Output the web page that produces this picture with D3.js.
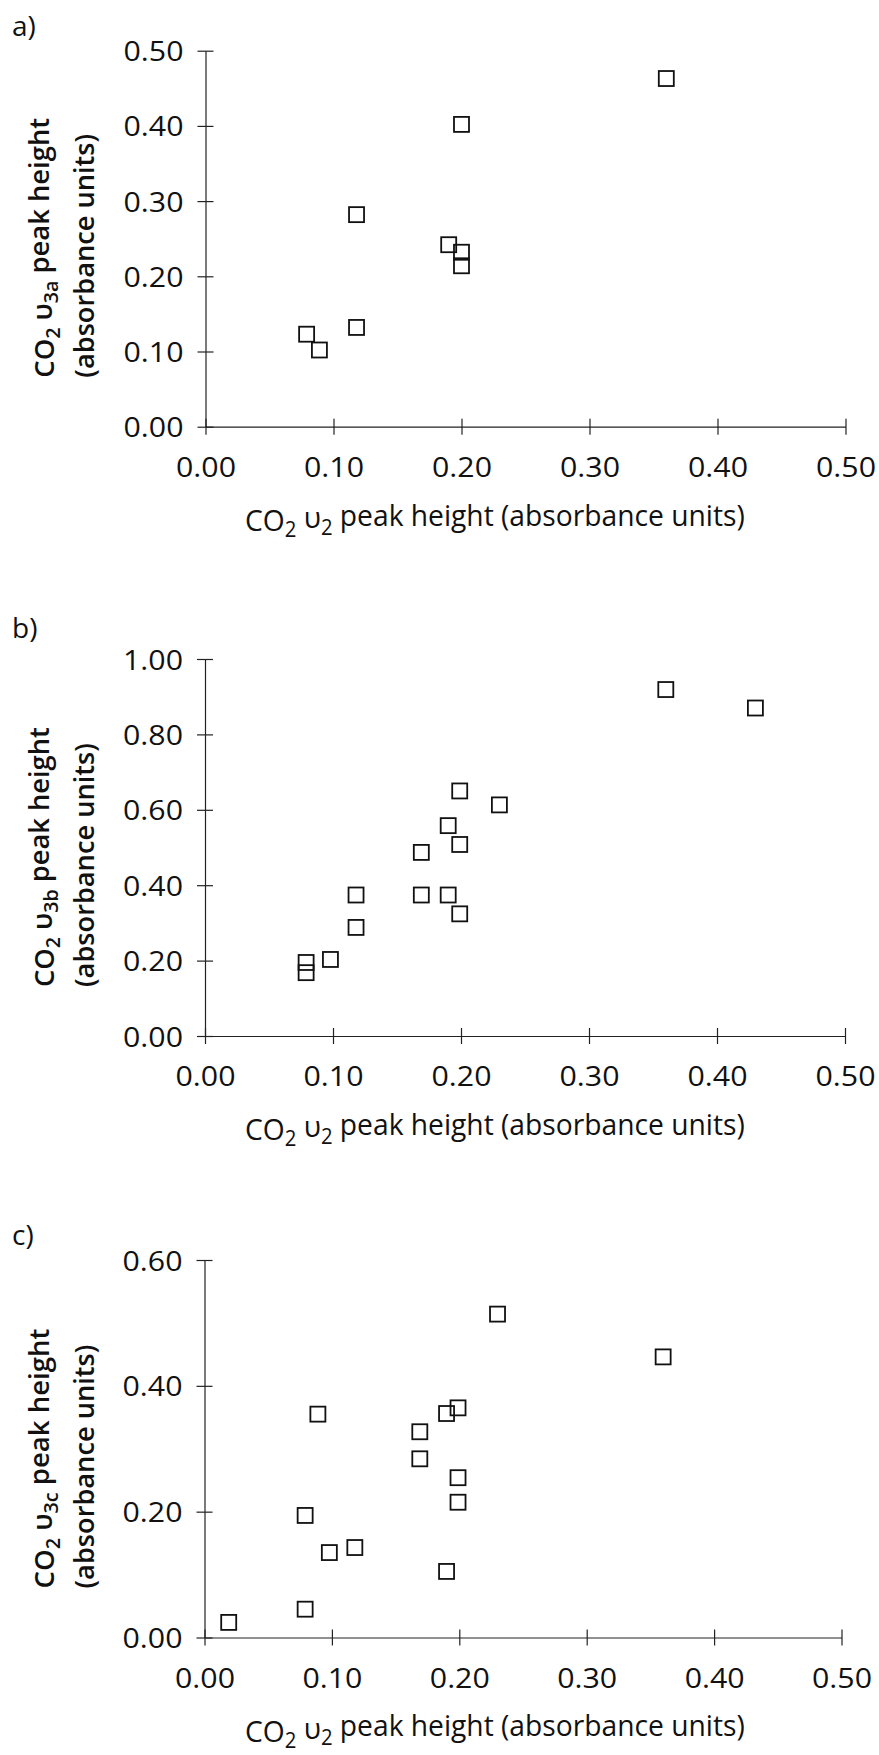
<!DOCTYPE html>
<html>
<head>
<meta charset="utf-8">
<script src="https://cdn.jsdelivr.net/npm/d3@7"></script>
<style>
  html, body { margin: 0; padding: 0; background: #fff; }
  svg { display: block; }
  text { font-family: "Open Sans", "DejaVu Sans", sans-serif; fill: #111; }
</style>
</head>
<body>
<svg id="chart" width="879" height="1755"></svg>
<script>
// ---------------- data ----------------
const xTicks = [0, 0.1, 0.2, 0.3, 0.4, 0.5];
const xMax = 0.5;

const panelLabels = ["a)", "b)", "c)"];
const ySubscripts = ["3a", "3b", "3c"];

// panel a : CO2 v3a vs CO2 v2
const aX = [0.36, 0.20, 0.118, 0.19, 0.20, 0.20, 0.118, 0.079, 0.089];
const aY = [0.463, 0.402, 0.282, 0.242, 0.232, 0.214, 0.132, 0.123, 0.102];
const aTicks = [0, 0.1, 0.2, 0.3, 0.4, 0.5];
const aMax = 0.5;

// panel b : CO2 v3b vs CO2 v2
const bX = [0.36, 0.43, 0.199, 0.23, 0.19, 0.199, 0.169, 0.118, 0.169, 0.19, 0.199, 0.118, 0.098, 0.079, 0.079];
const bY = [0.919, 0.870, 0.650, 0.613, 0.558, 0.508, 0.487, 0.374, 0.374, 0.374, 0.324, 0.288, 0.203, 0.195, 0.168];
const bTicks = [0, 0.2, 0.4, 0.6, 0.8, 1.0];
const bMax = 1.0;

// panel c : CO2 v3c vs CO2 v2
const cX = [0.23, 0.36, 0.199, 0.19, 0.089, 0.169, 0.169, 0.199, 0.199, 0.079, 0.118, 0.098, 0.19, 0.079, 0.019];
const cY = [0.514, 0.446, 0.365, 0.356, 0.355, 0.327, 0.284, 0.254, 0.215, 0.194, 0.143, 0.135, 0.105, 0.045, 0.024];
const cTicks = [0, 0.2, 0.4, 0.6];
const cMax = 0.6;

// ---------------- layout ----------------
const panels = [
  { label: panelLabels[0], sub: ySubscripts[0], xs: aX, ys: aY, ticks: aTicks, yMax: aMax,
    xr: [205.5, 845.5], yr: [426.7, 50.7], labelY: 36 },
  { label: panelLabels[1], sub: ySubscripts[1], xs: bX, ys: bY, ticks: bTicks, yMax: bMax,
    xr: [205, 845], yr: [1036, 659], labelY: 638 },
  { label: panelLabels[2], sub: ySubscripts[2], xs: cX, ys: cY, ticks: cTicks, yMax: cMax,
    xr: [204.5, 841.5], yr: [1637.5, 1260], labelY: 1245 }
];

const svg = d3.select("#chart");
const fmt = d3.format(".2f");
const TICK_FS = 28, TITLE_FS = 30, YT_FS = 27, LAB_FS = 28;

// measure helper
function measure(build, size, weight) {
  const t = svg.append("text").attr("font-size", size).attr("font-weight", weight || 400);
  build(t);
  const w = t.node().getComputedTextLength();
  t.remove();
  return w;
}
const tickScale = 60 / measure(t => t.text("0.50"), TICK_FS);

function titleX(t, sub) {
  t.append("tspan").text("CO");
  t.append("tspan").attr("font-size", "72%").attr("dy", "0.3em").text("2");
  t.append("tspan").attr("dy", "-0.3em").text(" υ");
  t.append("tspan").attr("font-size", "72%").attr("dy", "0.3em").text(sub);
  t.append("tspan").attr("dy", "-0.3em").text(sub === "2" ? " peak height (absorbance units)" : " peak height");
}

panels.forEach(p => {
  const g = svg.append("g");
  const x = d3.scaleLinear().domain([0, xMax]).range(p.xr);
  const y = d3.scaleLinear().domain([0, p.yMax]).range(p.yr);
  const y0 = p.yr[0];

  // x axis
  const gx = g.append("g").attr("transform", `translate(0,${y0})`)
    .call(d3.axisBottom(x).tickValues(xTicks).tickFormat(fmt).tickSize(8).tickSizeOuter(0));
  gx.selectAll(".tick line").attr("y1", -8).attr("y2", 8);
  gx.selectAll(".tick text")
    .attr("y", null).attr("dy", null).attr("x", null)
    .attr("font-size", TICK_FS).attr("font-family", null)
    .attr("text-anchor", "middle")
    .attr("transform", `translate(0,50) scale(${tickScale},1)`);

  // y axis
  const gy = g.append("g").attr("transform", `translate(${p.xr[0]},0)`)
    .call(d3.axisLeft(y).tickValues(p.ticks).tickFormat(fmt).tickSize(8).tickSizeOuter(0));
  gy.selectAll(".tick line").attr("x1", 8).attr("x2", -8);
  gy.selectAll(".tick text")
    .attr("x", null).attr("dy", null).attr("y", null)
    .attr("font-size", TICK_FS).attr("font-family", null)
    .attr("text-anchor", "end")
    .attr("transform", `translate(-22,10) scale(${tickScale},1)`);

  g.selectAll(".domain, .tick line").attr("stroke", "#222").attr("stroke-width", 1.2);

  // panel label
  g.append("text").attr("x", 12).attr("y", p.labelY).attr("font-size", LAB_FS).text(p.label);

  // x title
  const wX = measure(t => titleX(t, "2"), TITLE_FS);
  const tx = g.append("text").attr("font-size", TITLE_FS)
    .attr("transform", `translate(245,${y0 + 104}) scale(${500 / wX},1)`);
  titleX(tx, "2");

  // y title, two lines, rotated
  const w1 = measure(t => titleX(t, p.sub), YT_FS, 600);
  const ty1 = g.append("text").attr("font-size", YT_FS).attr("font-weight", 600)
    .attr("transform", `translate(54,${y0 - 49}) rotate(-90) scale(${260 / w1},1)`);
  titleX(ty1, p.sub);
  const w2 = measure(t => t.text("(absorbance units)"), YT_FS, 600);
  g.append("text").attr("font-size", YT_FS).attr("font-weight", 600)
    .attr("transform", `translate(94,${y0 - 49}) rotate(-90) scale(${244 / w2},1)`)
    .text("(absorbance units)");

  // markers
  const S = 15;
  g.append("g").selectAll("rect")
    .data(p.xs.map((v, i) => [v, p.ys[i]]))
    .join("rect")
    .attr("x", d => x(d[0]) - S / 2)
    .attr("y", d => y(d[1]) - S / 2)
    .attr("width", S).attr("height", S)
    .attr("fill", "none").attr("stroke", "#111").attr("stroke-width", 1.8);
});
</script>
</body>
</html>
